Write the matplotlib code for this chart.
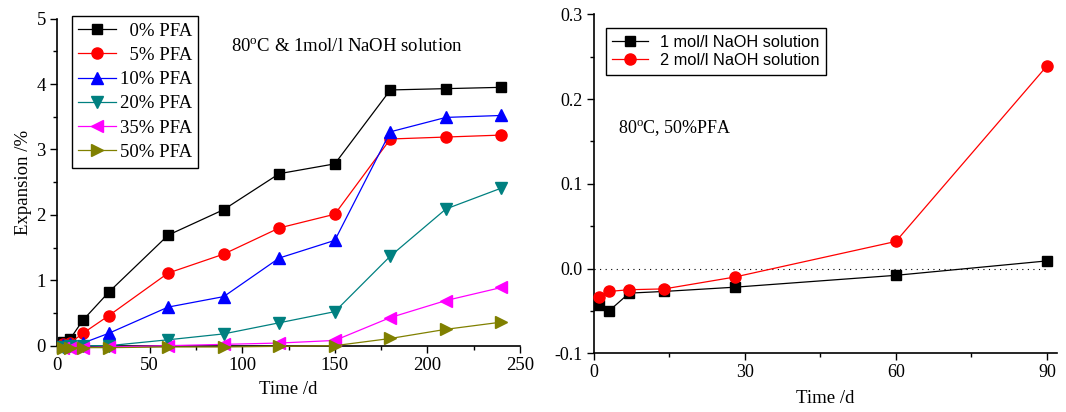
import matplotlib
matplotlib.use("Agg")
import matplotlib.pyplot as plt
from matplotlib.ticker import MultipleLocator, FormatStrFormatter

# Left panel: expansion vs time, 80 C & 1 mol/l NaOH, different PFA contents
DAYS = [3, 7, 14, 28, 60, 90, 120, 150, 180, 210, 240]
PFA_LABELS = ["  0% PFA", "  5% PFA", "10% PFA", "20% PFA", "35% PFA", "50% PFA"]
PFA_0 = [0.05, 0.10, 0.39, 0.82, 1.69, 2.08, 2.63, 2.78, 3.91, 3.93, 3.95]
PFA_5 = [0.02, 0.04, 0.19, 0.46, 1.11, 1.40, 1.80, 2.01, 3.16, 3.19, 3.22]
PFA_10 = [0.01, 0.02, 0.04, 0.19, 0.59, 0.75, 1.34, 1.61, 3.27, 3.49, 3.52]
PFA_20 = [-0.02, -0.01, 0.00, 0.00, 0.09, 0.18, 0.35, 0.52, 1.37, 2.09, 2.41]
PFA_35 = [-0.03, -0.03, -0.03, -0.02, 0.00, 0.02, 0.04, 0.08, 0.43, 0.69, 0.89]
PFA_50 = [-0.03, -0.03, -0.03, -0.03, -0.02, -0.02, -0.01, 0.00, 0.11, 0.25, 0.36]

# Right panel: 50% PFA at 80 C, two NaOH concentrations
DAYS_R = [1, 3, 7, 14, 28, 60, 90]
NAOH_1 = [-0.043, -0.050, -0.029, -0.027, -0.022, -0.008, 0.009]
NAOH_2 = [-0.034, -0.027, -0.025, -0.024, -0.010, 0.032, 0.239]
NAOH_LABELS = ["1 mol/l NaOH solution", "2 mol/l NaOH solution"]

plt.rcParams.update({
    "font.family": "Liberation Serif",
    "mathtext.fontset": "custom",
    "mathtext.rm": "Liberation Serif",
    "mathtext.it": "Liberation Serif:italic",
    "font.size": 13.5,
    "xtick.direction": "out",
    "ytick.direction": "out",
    "xtick.major.size": 5,
    "ytick.major.size": 5,
    "xtick.minor.size": 3,
    "ytick.minor.size": 3,
    "xtick.major.width": 1.0,
    "ytick.major.width": 1.0,
    "xtick.minor.width": 1.0,
    "ytick.minor.width": 1.0,
    "axes.linewidth": 1.2,
})


def style_axes(ax):
    ax.spines["top"].set_visible(False)
    ax.spines["right"].set_visible(False)
    ax.tick_params(which="both", pad=3)


fig = plt.figure(figsize=(10.66, 4.12), dpi=100)

# ---- left panel ----
ax1 = fig.add_axes([0.0535, 0.161, 0.4343, 0.7937])
series = [PFA_0, PFA_5, PFA_10, PFA_20, PFA_35, PFA_50]
colors = ["#000000", "#ff0000", "#0000ff", "#008080", "#ff00ff", "#808000"]
markers = ["s", "o", "^", "v", "<", ">"]
sizes = [6.5, 8, 8, 8, 8, 8]
for vals, lab, c, m, ms in zip(series, PFA_LABELS, colors, markers, sizes):
    ax1.plot(DAYS, vals, color=c, marker=m, markersize=ms, linewidth=0.9,
             label=lab, clip_on=False, zorder=3)
ax1.set_xlim(0, 250)
ax1.set_ylim(0, 5)
ax1.xaxis.set_major_locator(MultipleLocator(50))
ax1.xaxis.set_minor_locator(MultipleLocator(25))
ax1.yaxis.set_major_locator(MultipleLocator(1))
ax1.yaxis.set_minor_locator(MultipleLocator(0.5))
ax1.set_xlabel("Time /d", labelpad=5)
ax1.set_ylabel("Expansion /%", labelpad=3)
style_axes(ax1)
leg1 = ax1.legend(loc="upper left", bbox_to_anchor=(0.032, 1.008), borderaxespad=0,
                  frameon=True, fancybox=False, edgecolor="black", framealpha=1,
                  handlelength=2.0, handletextpad=0.2, labelspacing=0.38,
                  borderpad=0.35, fontsize=13.5)
leg1.get_frame().set_linewidth(1.0)
ax1.text(0.376, 0.915, r"80$^{\mathrm{o}}$C & 1mol/l NaOH solution",
         transform=ax1.transAxes, fontsize=13.5, va="center")

# ---- right panel ----
ax2 = fig.add_axes([0.5572, 0.1425, 0.4343, 0.8228])
ax2.hlines(0, 0, 90, colors="black", linestyles=(0, (1, 4)), linewidth=0.8, zorder=1)
ax2.plot(DAYS_R, NAOH_1, color="black", marker="s", markersize=6.5, linewidth=0.9,
         label=NAOH_LABELS[0], clip_on=False, zorder=3)
ax2.plot(DAYS_R, NAOH_2, color="#ff0000", marker="o", markersize=8, linewidth=0.9,
         label=NAOH_LABELS[1], clip_on=False, zorder=3)
ax2.set_xlim(0, 92)
ax2.set_ylim(-0.1, 0.3)
ax2.xaxis.set_major_locator(MultipleLocator(30))
ax2.xaxis.set_minor_locator(MultipleLocator(15))
ax2.yaxis.set_major_locator(MultipleLocator(0.1))
ax2.yaxis.set_minor_locator(MultipleLocator(0.05))
ax2.yaxis.set_major_formatter(FormatStrFormatter("%.1f"))
ax2.tick_params(labelsize=13)
ax2.set_xlabel("Time /d", labelpad=6)
style_axes(ax2)
leg2 = ax2.legend(loc="upper left", bbox_to_anchor=(0.025, 0.9587), borderaxespad=0,
                  frameon=True, fancybox=False, edgecolor="black", framealpha=1,
                  handlelength=2.2, handletextpad=0.7, labelspacing=0.2,
                  borderpad=0.4, prop={"family": "Liberation Sans", "size": 11.8})
leg2.get_frame().set_linewidth(1.0)
ax2.text(0.052, 0.665, r"80$^{\mathrm{o}}$C, 50%PFA", transform=ax2.transAxes,
         fontsize=13, va="center")

fig.savefig("out.png", dpi=100)
